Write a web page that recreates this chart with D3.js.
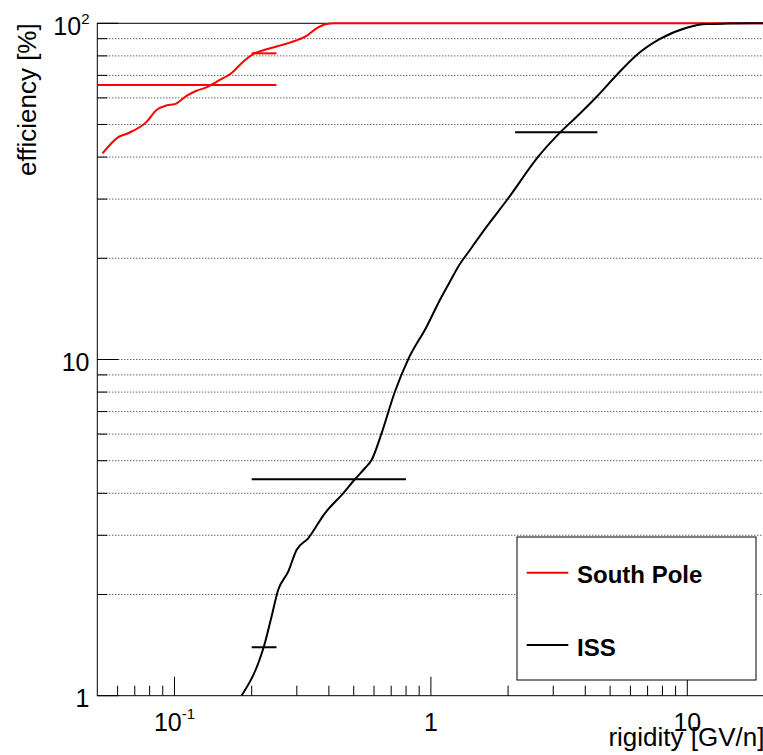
<!DOCTYPE html>
<html>
<head>
<meta charset="utf-8">
<script src="https://cdn.jsdelivr.net/npm/d3@7"></script>
<style>
  html, body { margin: 0; padding: 0; background: #fff; overflow: hidden; }
  svg { display: block; font-family: "Liberation Sans", Arial, Helvetica, sans-serif; }
</style>
</head>
<body>
<svg id="chart" width="763" height="755"></svg>
<script>
// Trigger efficiency vs rigidity, two detector sites
const southPoleRigidity = [0.0524, 0.0602, 0.0659, 0.0778, 0.0851, 0.0931, 0.1003, 0.1114, 0.1218, 0.1333, 0.1458, 0.1693, 0.1852, 0.2026, 0.2286, 0.2818, 0.3273, 0.3581, 0.3917, 0.42, 20];
const southPoleEff      = [41.0, 45.8, 47.1, 50.9, 55.2, 57.0, 57.5, 60.8, 63.0, 64.5, 67.0, 71.8, 76.9, 81.0, 83.7, 87.6, 91.7, 96.6, 99.5, 100, 100];

const issRigidity = [0.1825, 0.2172, 0.2251, 0.2390, 0.2537, 0.2776, 0.2992, 0.3321, 0.3859, 0.4548, 0.5052, 0.5527, 0.5869, 0.6423, 0.7236, 0.8155, 0.9621, 1.084, 1.186, 1.278, 1.420, 1.650, 2.003, 2.622, 3.186, 3.703, 4.432, 5.304, 6.348, 7.825, 9.947, 11.90, 14.24, 20];
const issEff      = [1.0, 1.312, 1.432, 1.718, 2.062, 2.338, 2.713, 2.939, 3.487, 4.000, 4.403, 4.748, 5.024, 6.033, 8.02, 10.01, 12.52, 15.03, 17.03, 18.88, 21.17, 24.83, 30.17, 40.11, 47.28, 52.76, 60.49, 70.19, 80.48, 89.81, 97.0, 99.5, 99.8, 100];

// Binned measurements drawn as horizontal bars (bin low edge, bin high edge, value)
const southPoleBinLow  = [0.05, 0.20];
const southPoleBinHigh = [0.25, 0.25];
const southPoleBinEff  = [65.5, 81.4];

const issBinLow  = [0.20, 0.20, 2.13];
const issBinHigh = [0.25, 0.80, 4.46];
const issBinEff  = [1.393, 4.40, 47.4];

// Axis ticks
const xMajorTicks = [0.1, 1, 10];
const xMajorLabels = [["10", "-1"], ["1", ""], ["10", ""]];
const xMinorTicks = [0.06, 0.07, 0.08, 0.09, 0.2, 0.3, 0.4, 0.5, 0.6, 0.7, 0.8, 0.9, 2, 3, 4, 5, 6, 7, 8, 9];
const yMajorTicks = [1, 10, 100];
const yMajorLabels = [["1", ""], ["10", ""], ["10", "2"]];
const yMinorTicks = [2, 3, 4, 5, 6, 7, 8, 9, 20, 30, 40, 50, 60, 70, 80, 90];

const seriesNames = ["South Pole", "ISS"];
const seriesColors = ["#ff0000", "#000000"];

const svg = d3.select("#chart");
const frameLeft = 97.3, frameRight = 764.5, frameTop = 23.3, frameBottom = 695.7;

const x = d3.scaleLog().domain([0.05, 20]).range([frameLeft, frameRight]);
const y = d3.scaleLog().domain([1, 100]).range([frameBottom, frameTop]);

// Horizontal dotted grid at every y tick
const gridVals = yMinorTicks.concat([10]);
svg.append("g").selectAll("line").data(gridVals).join("line")
  .attr("x1", frameLeft).attr("x2", frameRight)
  .attr("y1", d => y(d)).attr("y2", d => y(d))
  .attr("stroke", "#222").attr("stroke-width", 1)
  .attr("stroke-dasharray", "1,2");

// Frame
svg.append("rect")
  .attr("x", frameLeft).attr("y", frameTop)
  .attr("width", frameRight - frameLeft).attr("height", frameBottom - frameTop)
  .attr("fill", "none").attr("stroke", "#000").attr("stroke-width", 1);

// Y axis ticks
const yAxis = svg.append("g");
yAxis.selectAll("line.maj").data(yMajorTicks).join("line")
  .attr("x1", frameLeft).attr("x2", frameLeft + 21)
  .attr("y1", d => y(d)).attr("y2", d => y(d))
  .attr("stroke", "#000").attr("stroke-width", 1);
yAxis.selectAll("line.min").data(yMinorTicks).join("line")
  .attr("x1", frameLeft).attr("x2", frameLeft + 10)
  .attr("y1", d => y(d)).attr("y2", d => y(d))
  .attr("stroke", "#000").attr("stroke-width", 1);

// X axis ticks
const xAxis = svg.append("g");
xAxis.selectAll("line.maj").data(xMajorTicks).join("line")
  .attr("x1", d => x(d)).attr("x2", d => x(d))
  .attr("y1", frameBottom).attr("y2", frameBottom - 19)
  .attr("stroke", "#000").attr("stroke-width", 1);
xAxis.selectAll("line.min").data(xMinorTicks).join("line")
  .attr("x1", d => x(d)).attr("x2", d => x(d))
  .attr("y1", frameBottom).attr("y2", frameBottom - 10)
  .attr("stroke", "#000").attr("stroke-width", 1);

function powerLabel(sel, parts, size) {
  sel.append("tspan").text(parts[0]).attr("font-size", size);
  if (parts[1]) {
    sel.append("tspan").text(parts[1])
      .attr("font-size", size * 0.6)
      .attr("dy", -size * 0.45);
  }
}

xMajorTicks.forEach((v, i) => {
  const t = svg.append("text")
    .attr("x", x(v)).attr("y", 730.5)
    .attr("text-anchor", "middle").attr("fill", "#000");
  powerLabel(t, xMajorLabels[i], 25);
});
yMajorTicks.forEach((v, i) => {
  const t = svg.append("text")
    .attr("x", 89.5).attr("y", y(v) + 11.5)
    .attr("text-anchor", "end").attr("fill", "#000");
  powerLabel(t, yMajorLabels[i], 25);
});

// Axis titles
svg.append("text")
  .attr("x", frameRight).attr("y", 746)
  .attr("text-anchor", "end").attr("font-size", 26)
  .text("rigidity [GV/n]");
svg.append("text")
  .attr("transform", `translate(36,${frameTop}) rotate(-90)`)
  .attr("text-anchor", "end").attr("font-size", 26)
  .text("efficiency [%]");

// Curves, clipped at the bottom of the frame
svg.append("clipPath").attr("id", "plotClip")
  .append("rect").attr("x", frameLeft).attr("y", 0)
  .attr("width", 800).attr("height", frameBottom);

const line = d3.line()
  .x(d => x(d[0])).y(d => y(d[1]))
  .curve(d3.curveMonotoneX);

const plot = svg.append("g").attr("clip-path", "url(#plotClip)");

const spPts = southPoleRigidity.map((r, i) => [r, southPoleEff[i]]);
const issPts = issRigidity.map((r, i) => [r, issEff[i]]);

plot.append("path").datum(spPts)
  .attr("d", line).attr("fill", "none")
  .attr("stroke", seriesColors[0]).attr("stroke-width", 2);

plot.selectAll("line.spbin").data(southPoleBinEff).join("line")
  .attr("x1", (d, i) => x(southPoleBinLow[i])).attr("x2", (d, i) => x(southPoleBinHigh[i]))
  .attr("y1", d => y(d)).attr("y2", d => y(d))
  .attr("stroke", seriesColors[0]).attr("stroke-width", 2);

plot.append("path").datum(issPts)
  .attr("d", line).attr("fill", "none")
  .attr("stroke", seriesColors[1]).attr("stroke-width", 2);

plot.selectAll("line.issbin").data(issBinEff).join("line")
  .attr("x1", (d, i) => x(issBinLow[i])).attr("x2", (d, i) => x(issBinHigh[i]))
  .attr("y1", d => y(d)).attr("y2", d => y(d))
  .attr("stroke", seriesColors[1]).attr("stroke-width", 2);

// Legend
const lg = svg.append("g");
lg.append("rect")
  .attr("x", 517).attr("y", 537).attr("width", 239).attr("height", 143)
  .attr("fill", "#fff").attr("stroke", "#000").attr("stroke-width", 1);
const legendY = [572.7, 645];
seriesNames.forEach((name, i) => {
  lg.append("line")
    .attr("x1", 526.7).attr("x2", 568.3)
    .attr("y1", legendY[i]).attr("y2", legendY[i])
    .attr("stroke", seriesColors[i]).attr("stroke-width", 2);
  lg.append("text")
    .attr("x", 577).attr("y", legendY[i] + 10.5)
    .attr("font-size", 24).attr("font-weight", "bold")
    .text(name);
});
</script>
</body>
</html>
